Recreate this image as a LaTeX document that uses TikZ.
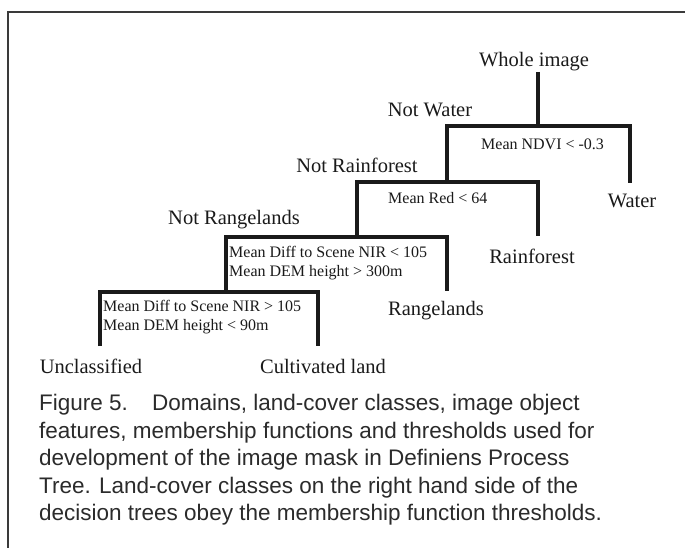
\documentclass[tikz,border=0pt]{standalone}
\usepackage{fontspec}
\setmainfont{Liberation Serif}
\newfontfamily\capfont{Liberation Sans}
\definecolor{ink}{HTML}{1A1A1A}
\definecolor{capink}{HTML}{2B2B2B}
\definecolor{framegray}{HTML}{3A3A3A}
\begin{document}
\begin{tikzpicture}[x=1pt,y=-1pt,
  big/.style={inner sep=0pt, text=ink, font=\fontsize{20.5}{22}\selectfont},
  small/.style={inner sep=0pt, text=ink, font=\fontsize{16}{19}\selectfont, align=left, anchor=west},
  branch/.style={draw=ink, line width=4pt, line cap=butt, line join=miter},
  caption/.style={inner sep=0pt, anchor=north west, align=left, text=capink, font=\capfont\fontsize{22.5}{27.5}\selectfont}]
\useasboundingbox (0,0) rectangle (685,548);
\fill[white] (0,0) rectangle (685,548);
% frame
\draw[framegray, line width=2pt] (7.5,548) -- (7.5,12) -- (685,12);
% labels
\node[big] (whole) at (534,62) {Whole image};
\node[big] (notwater) at (430,110) {Not Water};
\node[big] (water) at (632,201) {Water};
\node[big] (notrain) at (357,165) {Not Rainforest};
\node[big] (rain) at (532,256) {Rainforest};
\node[big] (notrange) at (234,220) {Not Rangelands};
\node[big] (range) at (436,311) {Rangelands};
\node[big] (uncl) at (91,366) {Unclassified};
\node[big] (cult) at (323,366) {Cultivated land};
\node[small] (c1) at (481,144) {Mean NDVI < -0.3};
\node[small] (c2) at (388,198) {Mean Red < 64};
\node[small] (c3) at (229,263) {Mean Diff to Scene NIR < 105\\Mean DEM height > 300m};
\node[small] (c4) at (103,317) {Mean Diff to Scene NIR > 105\\Mean DEM height < 90m};
% junction coordinates
\coordinate (top) at (538,72);
\coordinate (j1) at (538,126);
\coordinate (l1) at (447,126);
\coordinate (r1) at (630,126);
\coordinate (r1e) at (630,183);
\coordinate (l2) at (357,182);
\coordinate (j2) at (447,182);
\coordinate (r2) at (538,182);
\coordinate (r2e) at (538,236);
\coordinate (l3) at (226,237);
\coordinate (j3) at (357,237);
\coordinate (r3) at (447,237);
\coordinate (r3e) at (447,291);
\coordinate (l4) at (100,292);
\coordinate (j4) at (226,292);
\coordinate (r4) at (318,292);
\coordinate (l4e) at (100,346);
\coordinate (r4e) at (318,346);
% branches
\draw[branch] (top) -- (j1);
\draw[branch] (j2) -- (l1) -- (r1) -- (r1e);
\draw[branch] (j3) -- (l2) -- (r2) -- (r2e);
\draw[branch] (j4) -- (l3) -- (r3) -- (r3e);
\draw[branch] (l4e) -- (l4) -- (r4) -- (r4e);
% caption
\node[caption] (cap) at (39,394) {Figure 5.\hspace{0.7em} Domains, land-cover classes, image object\\
features, membership functions and thresholds used for\\
development of the image mask in Definiens Process\\
Tree. Land-cover classes on the right hand side of the\\
decision trees obey the membership function thresholds.};
\end{tikzpicture}
\end{document}
